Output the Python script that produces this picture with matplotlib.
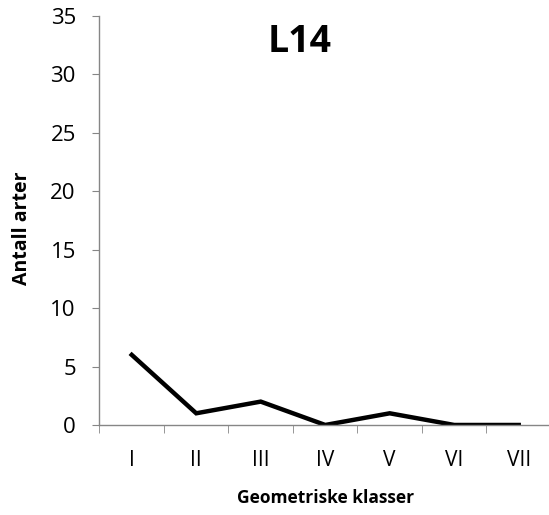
import matplotlib.pyplot as plt
import numpy as np

# Data
klasser = ['I', 'II', 'III', 'IV', 'V', 'VI', 'VII']
antall = [6, 1, 2, 0, 1, 0, 0]

plt.rcParams['font.family'] = ['Open Sans', 'DejaVu Sans']

fig = plt.figure(figsize=(5.49, 5.15), dpi=100)
ax = fig.add_axes([0.1812, 0.1748, 0.8224, 0.7942])

x = np.arange(len(klasser))
ax.plot(x, antall, color='black', linewidth=3.2, solid_joinstyle='miter')

ax.set_xlim(-0.5, len(klasser) - 0.5)
ax.set_ylim(0, 35)
ax.set_yticks(range(0, 36, 5))
ax.set_xticks(x)
ax.set_xticklabels(klasser)
ax.set_xticks(np.arange(-0.5, len(klasser), 1), minor=True)
ax.tick_params(axis='x', which='major', length=0, pad=18, labelsize=15)
ax.tick_params(axis='x', which='minor', length=6, direction='out', color='#868686')
ax.tick_params(axis='y', length=5, direction='out', color='#868686', labelsize=16, pad=12)

for s in ['top', 'right']:
    ax.spines[s].set_visible(False)
for s in ['left', 'bottom']:
    ax.spines[s].set_color('#868686')
    ax.spines[s].set_linewidth(1)

ax.set_xlabel('Geometriske klasser', fontsize=12.5, fontweight='bold', labelpad=13)
ax.set_ylabel('Antall arter', fontsize=14, fontweight='bold')
ax.yaxis.set_label_coords(-0.149, 0.48)
fig.text(0.546, 0.918, 'L14', fontsize=27, fontweight='bold', ha='center', va='center')

fig.savefig('out.png', dpi=100)
